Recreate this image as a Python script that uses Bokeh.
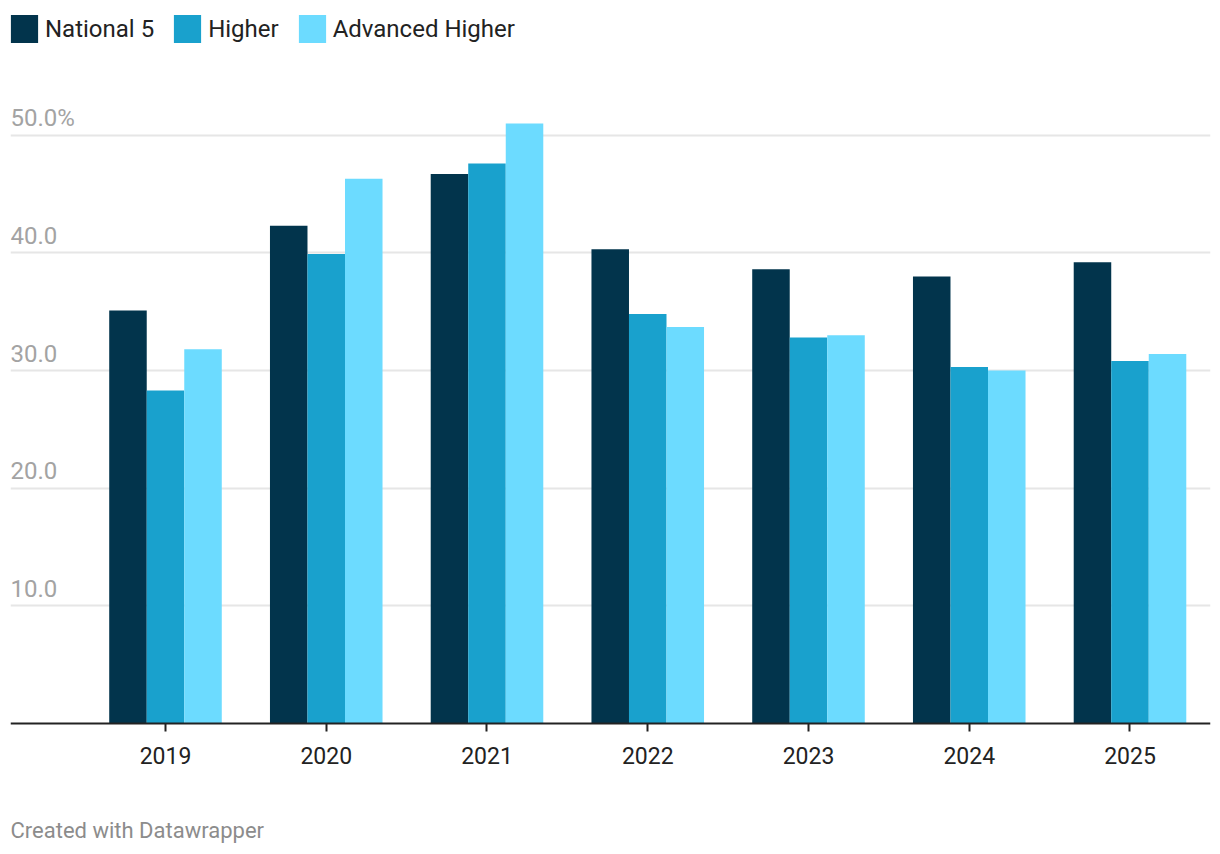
from bokeh.plotting import figure
from bokeh.models import ColumnDataSource, FixedTicker, LabelSet, Label, Range1d
from bokeh.core.properties import value
from bokeh.transform import dodge
from bokeh.embed import file_html
from bokeh.resources import INLINE

years = [2019, 2020, 2021, 2022, 2023, 2024, 2025]
national5 = [35.1, 42.3, 46.7, 40.3, 38.6, 38.0, 39.2]
higher = [28.3, 39.9, 47.6, 34.8, 32.8, 30.3, 30.8]
adv_higher = [31.8, 46.3, 51.0, 33.7, 33.0, 30.0, 31.4]

y_ticks = [10, 20, 30, 40, 50]
y_tick_labels = ["10.0", "20.0", "30.0", "40.0", "50.0%"]

series_names = ["National 5", "Higher", "Advanced Higher"]
colors = ["#02344c", "#19a1cd", "#6cdbff"]
footer = "Created with Datawrapper"

FONT = "Roboto"

src = ColumnDataSource(dict(year=years, n5=national5, hi=higher, ah=adv_higher))

p = figure(width=1220, height=854, output_backend="svg", toolbar_location=None,
           x_range=Range1d(2018.0358, 2025.5008), y_range=Range1d(-11.14, 60.77),
           y_axis_location=None, min_border_left=10, min_border_right=10,
           min_border_top=8, min_border_bottom=0)
p.outline_line_color = None
p.background_fill_color = "white"

bw = 0.2334
for col, off, name, c in zip(["n5", "hi", "ah"], [-bw, 0, bw], series_names, colors):
    p.vbar(x=dodge("year", off, range=p.x_range), top=col, width=bw, bottom=0,
           source=src, fill_color=c, line_color=None, legend_label=name)

# grid
p.xgrid.visible = False
p.ygrid.ticker = FixedTicker(ticks=y_ticks)
p.ygrid.grid_line_color = "#e6e6e6"
p.ygrid.grid_line_width = 2

# x axis, pinned at y = 0
ax = p.xaxis[0]
ax.fixed_location = 0
ax.ticker = FixedTicker(ticks=years)
ax.axis_line_color = "#222222"
ax.axis_line_width = 2
ax.major_tick_line_color = "#222222"
ax.major_tick_line_width = 2
ax.major_tick_out = 8
ax.major_tick_in = 0
ax.minor_tick_line_color = None
ax.major_label_text_font = FONT
ax.major_label_text_font_size = "23px"
ax.major_label_text_color = "#222222"
ax.major_label_standoff = 16

# footer
p.add_layout(Label(x=0, y=24, x_units="screen", y_units="screen", text=footer,
                   text_font=FONT, text_font_size="22px", text_color="#8c8c8c",
                   text_baseline="middle", text_align="left"))

# y tick labels drawn above gridlines
ysrc = ColumnDataSource(dict(y=y_ticks, t=y_tick_labels))
p.add_layout(LabelSet(x=0, y="y", text="t", source=ysrc, x_units="screen",
                      y_offset=9, text_font=value(FONT), text_font_size=value("24px"),
                      text_color="#a3a3a3", text_baseline="alphabetic"))

# legend
lg = p.legend[0]
lg.location = (-3, 808)
lg.orientation = "horizontal"
lg.background_fill_alpha = 0
lg.border_line_color = None
lg.padding = 0
lg.margin = 0
lg.glyph_width = 34
lg.glyph_height = 35
lg.label_standoff = 4
lg.spacing = 16
lg.label_text_font = FONT
lg.label_text_font_size = "24px"
lg.label_text_color = "#222222"

open("out.html", "w").write(file_html(p, INLINE))
